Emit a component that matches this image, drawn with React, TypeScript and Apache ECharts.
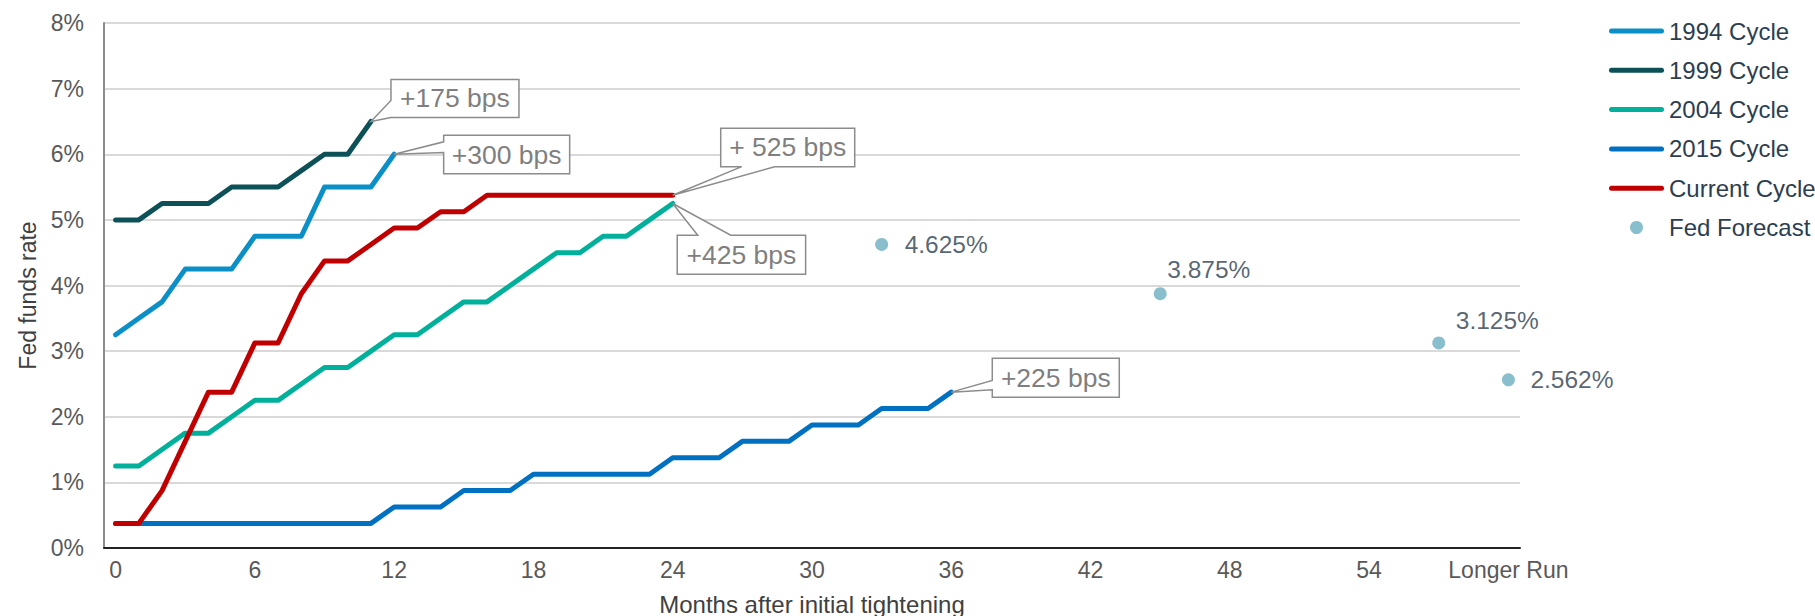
import React, { useEffect, useRef } from "react";
import * as echarts from "echarts";

// ---------- data ----------
const monthCategories: string[] = [
  "0","1","2","3","4","5","6","7","8","9","10","11","12","13","14","15","16","17","18","19",
  "20","21","22","23","24","25","26","27","28","29","30","31","32","33","34","35","36","37","38","39",
  "40","41","42","43","44","45","46","47","48","49","50","51","52","53","54","55","56","57","58","59",
  "Longer Run",
];

const cycle1994 = [3.25, 3.5, 3.75, 4.25, 4.25, 4.25, 4.75, 4.75, 4.75, 5.5, 5.5, 5.5, 6.0];
const cycle1999 = [5.0, 5.0, 5.25, 5.25, 5.25, 5.5, 5.5, 5.5, 5.75, 6.0, 6.0, 6.5];
const cycle2004 = [
  1.25, 1.25, 1.5, 1.75, 1.75, 2.0, 2.25, 2.25, 2.5, 2.75, 2.75, 3.0, 3.25, 3.25, 3.5, 3.75,
  3.75, 4.0, 4.25, 4.5, 4.5, 4.75, 4.75, 5.0, 5.25,
];
const cycle2015 = [
  0.375, 0.375, 0.375, 0.375, 0.375, 0.375, 0.375, 0.375, 0.375, 0.375, 0.375, 0.375,
  0.625, 0.625, 0.625, 0.875, 0.875, 0.875, 1.125, 1.125, 1.125, 1.125, 1.125, 1.125,
  1.375, 1.375, 1.375, 1.625, 1.625, 1.625, 1.875, 1.875, 1.875, 2.125, 2.125, 2.125, 2.375,
];
const currentCycle = [
  0.375, 0.375, 0.875, 1.625, 2.375, 2.375, 3.125, 3.125, 3.875, 4.375, 4.375, 4.625, 4.875,
  4.875, 5.125, 5.125, 5.375, 5.375, 5.375, 5.375, 5.375, 5.375, 5.375, 5.375, 5.375,
];
const forecastCategories = ["33", "45", "57", "Longer Run"];
const forecastValues = [4.625, 3.875, 3.125, 2.562];

const yTicks = [0, 1, 2, 3, 4, 5, 6, 7, 8];

// ---------- styling ----------
const FONT = "'Liberation Sans', Arial, Helvetica, sans-serif";
const LINE_ICON = "path://M2.5,0H52.5A2.5,2.5,0,0,1,52.5,5H2.5A2.5,2.5,0,0,1,2.5,0Z";

// label placement for forecast points: [distance, offsetX, offsetY]
const forecastLabelPlacement: [number, number, number][] = [
  [16.5, 0, 0],
  [0.5, 0, -24],
  [10.5, 0, -22],
  [15.5, 0, 0],
];

type Callout = {
  text: string;
  series: number[];
  box: [number, number, number, number]; // dx, dy, w, h relative to anchor
  side: "left" | "top" | "bottom";
  a: number;
  b: number;
};

const callouts: Callout[] = [
  { text: "+175 bps", series: cycle1999, box: [20, -42, 128, 38], side: "left", a: -21, b: -4 },
  { text: "+300 bps", series: cycle1994, box: [49.5, -19, 126, 38.5], side: "left", a: -12.4, b: -1.8 },
  { text: "+ 525 bps", series: currentCycle, box: [48, -67, 134, 38.4], side: "bottom", a: 69, b: 102 },
  { text: "+425 bps", series: cycle2004, box: [4.5, 31.7, 128.4, 39], side: "top", a: 25, b: 58 },
  { text: "+225 bps", series: cycle2015, box: [41, -34, 127, 39], side: "left", a: -11.6, b: -2.3 },
];

function lineSeries(name: string, data: number[], color: string) {
  return {
    name,
    type: "line",
    data,
    symbol: "none",
    lineStyle: { width: 5, color, cap: "round", join: "round" },
    itemStyle: { color },
    z: 3,
  };
}

export default function App() {
  const ref = useRef<HTMLDivElement>(null);

  useEffect(() => {
    document.body.style.margin = "0";
    if (!ref.current) return;
    const chart = echarts.init(ref.current, undefined, { renderer: "svg" });

    chart.setOption({
      animation: false,
      grid: {
        left: 104,
        right: 295,
        top: 23,
        bottom: 68,
        containLabel: false,
        outerBoundsMode: "none",
      },
      legend: {
        orient: "vertical",
        left: 1609,
        top: 18,
        padding: 0,
        itemWidth: 55,
        itemHeight: 13,
        itemGap: 13.3,
        selectedMode: false,
        itemStyle: { borderWidth: 0 },
        textStyle: { fontSize: 24, color: "#2c3e50", fontFamily: FONT, lineHeight: 26 },
        data: [
          { name: "1994 Cycle", icon: LINE_ICON },
          { name: "1999 Cycle", icon: LINE_ICON },
          { name: "2004 Cycle", icon: LINE_ICON },
          { name: "2015 Cycle", icon: LINE_ICON },
          { name: "Current Cycle", icon: LINE_ICON },
          { name: "Fed Forecast", icon: "circle" },
        ],
      },
      xAxis: {
        type: "category",
        data: monthCategories,
        boundaryGap: true,
        name: "Months after initial tightening",
        nameLocation: "middle",
        nameGap: 44,
        nameTextStyle: { fontSize: 24, color: "#404040", fontFamily: FONT },
        axisLine: { show: true, lineStyle: { color: "#222222", width: 2 } },
        axisTick: { show: false },
        axisLabel: { interval: 5, fontSize: 23, color: "#595959", fontFamily: FONT, margin: 10 },
        splitLine: { show: false },
      },
      yAxis: {
        type: "value",
        min: yTicks[0],
        max: yTicks[yTicks.length - 1],
        interval: 1,
        name: "Fed funds rate",
        nameLocation: "middle",
        nameRotate: 90,
        nameGap: 62,
        nameTextStyle: { fontSize: 23, color: "#404040", fontFamily: FONT, padding: [0, 20, 0, 0] },
        axisLine: { show: true, lineStyle: { color: "#8c8c8c", width: 2 } },
        axisTick: { show: false },
        axisLabel: { formatter: "{value}%", fontSize: 23, color: "#595959", fontFamily: FONT, margin: 20 },
        splitLine: { show: true, lineStyle: { color: "#d9d9d9", width: 2 } },
      },
      series: [
        lineSeries("1994 Cycle", cycle1994, "#0a8fc6"),
        lineSeries("1999 Cycle", cycle1999, "#0c5157"),
        lineSeries("2004 Cycle", cycle2004, "#00b09a"),
        lineSeries("2015 Cycle", cycle2015, "#0070c0"),
        lineSeries("Current Cycle", currentCycle, "#c00000"),
        {
          name: "Fed Forecast",
          type: "scatter",
          symbol: "circle",
          symbolSize: 13,
          itemStyle: { color: "#6bafbf" },
          z: 4,
          data: forecastCategories.map((c, i) => {
            const [distance, ox, oy] = forecastLabelPlacement[i];
            return {
              value: [c, forecastValues[i]],
              label: {
                show: true,
                position: "right",
                distance,
                offset: [ox, oy],
                formatter: (p: any) => `${p.value[1]}%`,
                fontSize: 24.5,
                color: "#2c3e50",
                fontFamily: FONT,
              },
            };
          }),
        },
      ],
    });

    const elements: any[] = [];
    callouts.forEach((c, k) => {
      const idx = c.series.length - 1;
      const [ax, ay] = chart.convertToPixel({ xAxisIndex: 0, yAxisIndex: 0 }, [idx, c.series[idx]]) as number[];
      const [dx, dy, w, h] = c.box;
      const L = ax + dx, T = ay + dy, R = L + w, B = T + h;
      let pts: number[][];
      if (c.side === "left") {
        pts = [[L, T], [R, T], [R, B], [L, B], [L, ay + c.b], [ax, ay], [L, ay + c.a]];
      } else if (c.side === "top") {
        pts = [[L, T], [ax + c.a, T], [ax, ay], [ax + c.b, T], [R, T], [R, B], [L, B]];
      } else {
        pts = [[L, T], [R, T], [R, B], [ax + c.b, B], [ax, ay], [ax + c.a, B], [L, B]];
      }
      elements.push({
        type: "polygon",
        id: "callout-box-" + k,
        shape: { points: pts },
        style: { fill: "#ffffff", stroke: "#8c8c8c", lineWidth: 1.5 },
        z: 100,
      });
      elements.push({
        type: "text",
        id: "callout-text-" + k,
        x: (L + R) / 2,
        y: (T + B) / 2,
        style: {
          text: c.text,
          fontSize: 26.5,
          fontFamily: FONT,
          fill: "#7f7f7f",
          align: "center",
          verticalAlign: "middle",
        },
        z: 101,
      });
    });
    chart.setOption({ graphic: elements });

    return () => chart.dispose();
  }, []);

  return <div ref={ref} style={{ width: 1815, height: 616 }} />;
}
